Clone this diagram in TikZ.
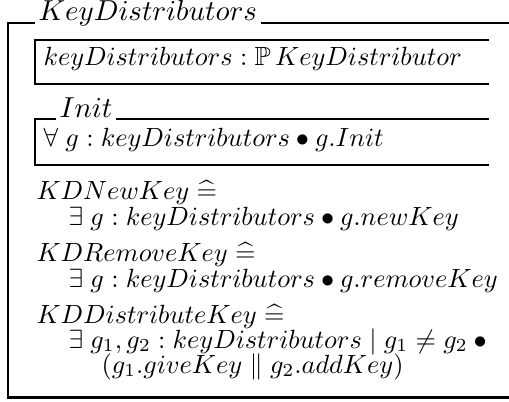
\documentclass[tikz,border=0pt]{standalone}
\usepackage{amssymb}
\usepackage{fix-cm}
\begin{document}
\begin{tikzpicture}[x=0.3876pt,y=-0.3876pt,
  txt/.style={anchor=base west, inner sep=0pt, font=\fontsize{10.2}{12}\selectfont},
  ttl/.style={anchor=base west, inner xsep=1.2pt, inner ysep=0pt, font=\fontsize{11.2}{13}\selectfont},
  frame/.style={line width=1.15pt, line join=miter},
  boxline/.style={line width=0.95pt, line join=miter}]
\useasboundingbox (0,0) rectangle (509,401);

% class frame
\coordinate (tl) at (8,23);
\coordinate (bl) at (8,397);
\coordinate (br) at (509,397);
\coordinate (tr) at (509,23);
\node[ttl] (cls) at (35,20.5) {$KeyDistributors$};
\draw[frame] (cls.west |- tl) -- (tl) -- (bl) -- (br);
\draw[frame] (cls.east |- tl) -- (tr);

% state schema
\coordinate (s1) at (489,40);
\coordinate (s2) at (35,40);
\coordinate (s3) at (35,84);
\coordinate (s4) at (489,84);
\draw[boxline] (s1) -- (s2) -- (s3) -- (s4);
\node[txt] (state) at (43,65) {$keyDistributors : \mathbb{P}\,KeyDistributor$};

% initial schema
\coordinate (i1) at (35,119);
\coordinate (i2) at (35,165);
\coordinate (i3) at (489,165);
\coordinate (i4) at (489,119);
\node[ttl] (init) at (56,117) {$Init$};
\draw[boxline] (init.west |- i1) -- (i1) -- (i2) -- (i3);
\draw[boxline] (init.east |- i1) -- (i4);
\node[txt] (initp) at (43,146) {$\forall\; g : keyDistributors \bullet g.Init$};

% operations
\node[txt] (op1) at (36,199) {$KDNewKey \mathrel{\widehat{=}}$};
\node[txt] (op1p) at (68,225) {$\exists\; g : keyDistributors \bullet g.newKey$};
\node[txt] (op2) at (36,261) {$KDRemoveKey \mathrel{\widehat{=}}$};
\node[txt] (op2p) at (68,287) {$\exists\; g : keyDistributors \bullet g.removeKey$};
\node[txt] (op3) at (36,323) {$KDDistributeKey \mathrel{\widehat{=}}$};
\node[txt] (op3p) at (68,348) {$\exists\; g_1, g_2 : keyDistributors \mid g_1 \neq g_2 \bullet{}$};
\node[txt] (op3q) at (101,373) {$(g_1.giveKey \parallel g_2.addKey)$};
\end{tikzpicture}
\end{document}
